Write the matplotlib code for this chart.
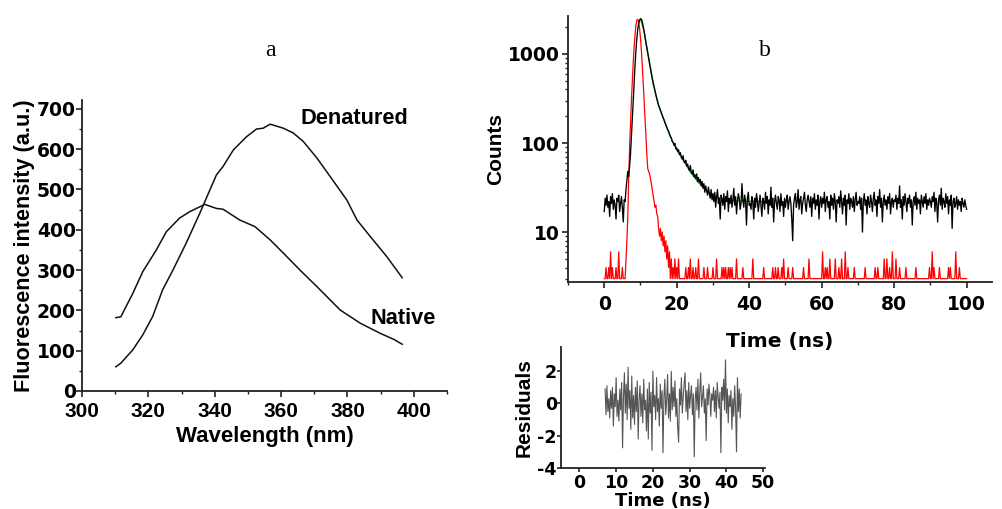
import numpy as np
import matplotlib
matplotlib.use("Agg")
import matplotlib.pyplot as plt
from matplotlib.ticker import MultipleLocator, LogLocator, NullFormatter, FixedLocator, FixedFormatter

plt.rcParams['font.family'] = ['Liberation Sans', 'DejaVu Sans']
plt.rcParams['font.weight'] = 'bold'
plt.rcParams['axes.unicode_minus'] = False

# ---------------- Panel a data ----------------
native_wl = [310.2, 311.7, 315.3, 318.3, 322.4, 325.4, 329.4, 332.5, 337.0, 340.5, 342.5,
             347.6, 352.1, 356.7, 360.7, 365.7, 370.8, 377.8, 383.9, 389.9, 394.0, 396.5]
native_int = [182, 184, 242, 296, 350, 395, 429, 445, 463, 453, 451,
              424, 408, 375, 342, 300, 259, 201, 168, 143, 128, 116]

denat_wl = [310.2, 311.7, 315.3, 318.3, 321.3, 324.3, 327.4, 331.4, 335.5, 340.5, 342.5,
            345.6, 349.6, 352.6, 354.6, 356.7, 360.7, 363.7, 366.7, 370.8, 374.8, 379.8,
            382.9, 386.9, 391.9, 396.5]
denat_int = [60, 69, 102, 139, 185, 251, 300, 367, 441, 536, 557,
             598, 631, 650, 652, 662, 652, 640, 619, 578, 532, 474,
             424, 383, 333, 281]

# ---------------- Panel b data (0 .. 100 ns) ----------------
decay_counts = [
    17, 24, 20, 26, 19, 22, 15, 25, 21, 27, 18, 23, 20, 14, 24, 22, 26, 17, 21, 25,
    19, 13, 23, 22, 30, 38, 48, 42, 55, 75, 120, 200, 290, 480, 750, 1100, 1500, 1900, 2200, 2400,
    2480, 2450, 2300, 2050, 1800, 1550, 1350, 1180, 1030, 900, 790, 690, 600, 530, 470, 425, 385, 345, 315, 288,
    265, 248, 232, 218, 205, 192, 182, 168, 160, 150, 142, 136, 126, 118, 114, 104, 102, 94, 99, 86,
    88, 80, 84, 74, 78, 70, 66, 72, 62, 60, 64, 55, 58, 52, 49, 56, 47, 45, 50, 42,
    44, 40, 45, 37, 41, 36, 39, 33, 37, 31, 35, 28, 33, 29, 26, 32, 27, 24, 30, 23,
    27, 22, 28, 19, 25, 30, 21, 24, 14, 26, 23, 20, 27, 18, 25, 22, 29, 17, 24, 21,
    26, 19, 23, 31, 20, 25, 16, 22, 27, 24, 18, 21, 35, 23, 19, 26, 22, 12, 24, 28,
    20, 21, 18, 25, 22, 14, 24, 19, 27, 23, 17, 21, 26, 20, 15, 24, 22, 18, 28, 21,
    25, 16, 23, 20, 32, 19, 24, 13, 22, 26, 21, 18, 25, 23, 17, 27, 20, 22, 15, 24,
    19, 23, 26, 18, 22, 25, 21, 14, 8, 20, 24, 27, 19, 22, 30, 18, 23, 25, 16, 21,
    24, 28, 20, 17, 23, 26, 22, 19, 25, 15, 24, 21, 27, 18, 23, 20, 26, 14, 22, 25,
    19, 24, 21, 28, 17, 23, 25, 19, 22, 14, 26, 20, 24, 18, 27, 22, 13, 23, 21, 25,
    19, 29, 22, 16, 24, 20, 26, 12, 23, 21, 27, 18, 24, 22, 19, 25, 17, 23, 28, 20,
    22, 21, 25, 18, 24, 10, 22, 27, 20, 23, 16, 25, 21, 19, 26, 22, 17, 24, 28, 20,
    23, 15, 25, 21, 30, 19, 24, 13, 22, 26, 20, 23, 18, 25, 21, 27, 16, 22, 24, 19,
    23, 22, 26, 18, 24, 21, 33, 19, 23, 14, 25, 20, 27, 22, 17, 24, 21, 26, 19, 23,
    12, 22, 25, 20, 28, 18, 24, 21, 23, 16, 26, 22, 19, 25, 21, 27, 18, 23, 20, 24,
    22, 19, 25, 22, 28, 17, 24, 21, 13, 23, 26, 20, 31, 18, 24, 22, 19, 27, 21, 25,
    16, 23, 20, 26, 11, 22, 24, 19, 21, 25, 18, 23, 20, 22, 17, 24, 21, 19, 23, 20,
    18,
]

irf_counts = [
    3, 3, 4, 3, 3, 4, 3, 6, 3, 4, 3, 3, 3, 4, 3, 3, 6, 3, 3, 3,
    4, 3, 3, 3, 5, 8, 15, 40, 90, 170, 300, 500, 800, 1200, 1650, 2100, 2400, 2450, 2300, 1950,
    1500, 1100, 750, 480, 300, 190, 120, 75, 52, 48, 45, 40, 35, 30, 26, 22, 19, 20, 16, 15,
    11, 9, 11, 8, 10, 7, 9, 6, 8, 5, 7, 4, 6, 3, 5, 3, 4, 3, 5, 3,
    4, 3, 5, 3, 3, 3, 3, 3, 3, 3, 4, 3, 3, 4, 3, 5, 3, 3, 4, 3,
    3, 4, 3, 3, 5, 3, 3, 3, 3, 3, 4, 3, 3, 3, 4, 3, 3, 3, 3, 3,
    4, 3, 3, 3, 5, 3, 3, 3, 3, 3, 4, 3, 4, 3, 4, 3, 3, 4, 3, 4,
    3, 4, 3, 3, 3, 3, 5, 3, 3, 3, 3, 3, 3, 4, 3, 3, 3, 3, 3, 3,
    3, 3, 3, 3, 5, 3, 3, 3, 3, 3, 3, 3, 3, 3, 3, 3, 4, 3, 3, 3,
    3, 3, 3, 3, 3, 3, 4, 3, 3, 4, 3, 3, 4, 3, 3, 3, 4, 3, 5, 3,
    3, 3, 3, 4, 3, 3, 3, 3, 4, 3, 3, 3, 3, 3, 3, 3, 3, 3, 3, 3,
    4, 3, 3, 3, 3, 3, 5, 3, 3, 3, 3, 3, 3, 3, 3, 3, 3, 3, 3, 3,
    3, 6, 3, 3, 4, 3, 4, 3, 3, 5, 3, 3, 3, 3, 3, 5, 3, 3, 3, 4,
    3, 3, 5, 3, 3, 3, 6, 3, 3, 4, 3, 3, 3, 3, 3, 3, 4, 3, 3, 3,
    3, 3, 3, 3, 3, 3, 3, 3, 4, 3, 3, 3, 3, 3, 3, 3, 3, 3, 3, 4,
    3, 3, 4, 3, 3, 3, 3, 3, 3, 5, 3, 3, 5, 3, 3, 4, 3, 3, 6, 3,
    3, 3, 5, 3, 3, 3, 4, 3, 3, 3, 3, 3, 3, 4, 3, 3, 3, 3, 3, 3,
    3, 3, 3, 3, 4, 3, 3, 3, 3, 3, 3, 3, 3, 3, 3, 3, 3, 3, 3, 4,
    3, 3, 6, 3, 4, 3, 3, 3, 3, 3, 4, 3, 3, 3, 3, 3, 3, 3, 3, 3,
    4, 3, 4, 3, 3, 3, 3, 3, 6, 3, 3, 3, 4, 3, 3, 3, 3, 3, 3, 3,
    3,
]

fit_time = [10, 11, 12, 13, 14, 15, 16, 17, 18, 19, 20, 22, 24, 26, 28, 30, 32, 34, 36, 38, 40, 42, 44]
fit_counts = [2480, 1800, 1030, 600, 385, 265, 205, 160, 126, 102, 85, 62, 46, 36, 30, 26, 24,
              23, 22.5, 22.3, 22.2, 22.1, 22]

residuals = [
    0.9, -0.7, 1.1, -0.5, 0.3, -0.9, 0.8, -0.3, 1.0, -1.4, 0.6, -0.2, 1.6, -0.8, 0.2, -1.1, 0.9, -0.4, 1.3, -2.75,
    0.4, 1.9, -0.6, 1.2, -1.0, 2.25, -0.3, 0.8, -1.6, 1.7, -0.9, 0.5, -1.3, 1.0, -0.5, 1.4, -2.2, 0.3, 1.1, -0.8,
    0.6, -1.2, 1.5, -0.4, 0.2, -1.7, 0.9, -2.2, 1.3, -0.6, 0.7, -2.9, 2.0, -0.2, 0.5, -1.0, 1.6, -0.5, 0.3, -1.4,
    1.2, -0.3, 0.8, -3.05, 0.4, 1.5, -0.7, 0.2, 1.8, -0.9, 0.6, -1.1, 2.0, -0.4, 1.0, -0.2, 1.4, -0.8, 0.3, -1.5,
    -2.4, 0.9, -0.1, 1.6, -0.6, 0.4, 1.2, 1.9, -0.5, 0.8, -1.0, 1.3, -0.3, 0.5, 1.1, -0.7, 0.6, -3.3, 0.2, 1.0,
    -0.4, 1.5, -0.9, 0.7, 1.9, -0.2, 0.4, 1.1, -0.6, 0.3, -2.3, 0.9, -0.1, 1.2, 0.5, -0.8, 0.6, 0.2, 1.0, -0.5,
    0.8, -0.9, 1.3, 0.4, -0.3, 0.7, -3.05, 1.0, 0.2, 1.5, -0.4, 2.7, -0.6, 0.9, -1.2, 0.5, -0.2, 0.8, -1.6, 0.3,
    -0.8, 1.1, -0.3, -3.0, 1.6, -0.5, 0.9, -0.9, 0.6,
]

decay_time = np.linspace(0, 100, len(decay_counts))
irf_time = np.linspace(0, 100, len(irf_counts))
res_time = np.linspace(7, 44, len(residuals))

W, H = 1002, 509
fig = plt.figure(figsize=(W / 100, H / 100), dpi=100)

spine_c = '#222222'
WIDE = 'DejaVu Sans'


def style(ax):
    for s in ['top', 'right']:
        ax.spines[s].set_visible(False)
    for s in ['left', 'bottom']:
        ax.spines[s].set_linewidth(1.3)
        ax.spines[s].set_color(spine_c)
    ax.tick_params(which='major', direction='out', length=4, width=1.2, color=spine_c)
    ax.tick_params(which='minor', direction='out', length=2.5, width=1.0, color=spine_c)


# ---------- Panel a ----------
axa = fig.add_axes([82 / W, 1 - 391 / H, (447 - 82) / W, (391 - 100) / H])
axa.plot(native_wl, native_int, color='#111111', lw=1.1)
axa.plot(denat_wl, denat_int, color='#111111', lw=1.1)
axa.set_xlim(300, 410)
axa.set_ylim(0, 722)
axa.xaxis.set_major_locator(FixedLocator([300, 320, 340, 360, 380, 400]))
axa.xaxis.set_minor_locator(MultipleLocator(10))
axa.yaxis.set_major_locator(MultipleLocator(100))
axa.yaxis.set_minor_locator(MultipleLocator(50))
style(axa)
axa.tick_params(axis='x', labelsize=15, pad=4)
axa.tick_params(axis='y', labelsize=13.5, pad=0.5, labelfontfamily=WIDE)
axa.set_xlabel('Wavelength (nm)', fontsize=16, fontweight='bold', labelpad=3.5)
axa.set_ylabel('Fluorescence intensity (a.u.)', fontsize=15.6, fontweight='bold', labelpad=1.5)
axa.text(365.7, 675, 'Denatured', fontsize=15.7, fontweight='bold', va='center', ha='left')
axa.text(387, 181, 'Native', fontsize=15.7, fontweight='bold', va='center', ha='left')
fig.text(270 / W, 1 - 50 / H, 'a', family='Liberation Serif', fontsize=17, fontweight='normal',
         ha='center', va='center')

# ---------- Panel b (decay) ----------
axb = fig.add_axes([568 / W, 1 - 282 / H, (992 - 568) / W, (282 - 16) / H])
axb.plot(irf_time, irf_counts, color='#ff0000', lw=0.9)
axb.plot(fit_time, fit_counts, color='#22aa22', lw=1.0)
axb.plot(decay_time, decay_counts, color='#000000', lw=0.95)
axb.set_yscale('log')
axb.set_xlim(-10, 107)
axb.set_ylim(2.75, 2670)
axb.xaxis.set_major_locator(MultipleLocator(20))
axb.xaxis.set_minor_locator(MultipleLocator(10))
axb.yaxis.set_major_locator(FixedLocator([10, 100, 1000]))
axb.yaxis.set_major_formatter(FixedFormatter(['10', '100', '1000']))
axb.yaxis.set_minor_locator(LogLocator(base=10, subs=np.arange(2, 10)))
axb.yaxis.set_minor_formatter(NullFormatter())
style(axb)
axb.tick_params(axis='both', labelsize=13.5, labelfontfamily=WIDE)
axb.tick_params(axis='x', pad=5)
axb.tick_params(axis='y', pad=2)
axb.set_xlabel('Time (ns)', fontsize=14.5, fontweight='bold', family=WIDE, labelpad=13)
axb.set_ylabel('Counts', fontsize=15, fontweight='bold', labelpad=2)
fig.text(765 / W, 1 - 50 / H, 'b', family='Liberation Serif', fontsize=17, fontweight='normal',
         ha='center', va='center')

# ---------- Residuals ----------
axr = fig.add_axes([561 / W, 1 - 468 / H, (765 - 561) / W, (468 - 347) / H])
axr.patch.set_alpha(0)
axr.plot(res_time, residuals, color='#555555', lw=0.8)
axr.set_xlim(-5, 50.5)
axr.set_ylim(-4, 3.5)
axr.xaxis.set_major_locator(MultipleLocator(10))
axr.yaxis.set_major_locator(MultipleLocator(2))
style(axr)
axr.tick_params(which='major', length=3, labelsize=12.5, labelfontfamily=WIDE)
axr.tick_params(axis='x', pad=1)
axr.tick_params(axis='y', pad=0)
axr.set_xlabel('Time (ns)', fontsize=13, fontweight='bold', family=WIDE, labelpad=0.5)
axr.set_ylabel('Residuals', fontsize=15, fontweight='bold', labelpad=3)

fig.savefig('out.png', dpi=100)
